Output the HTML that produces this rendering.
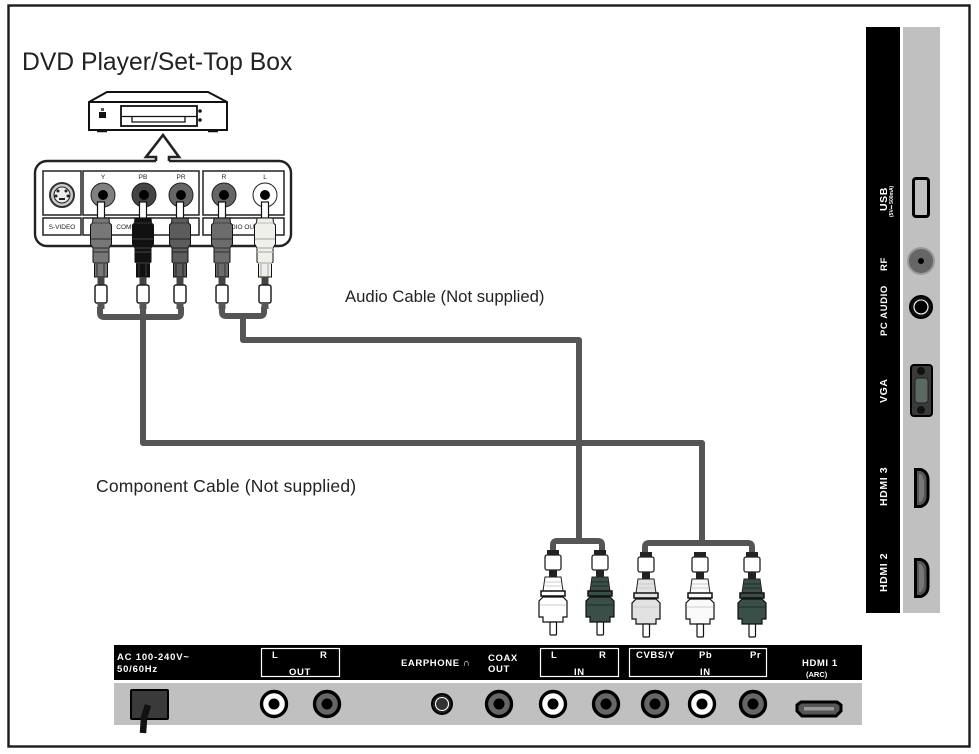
<!DOCTYPE html>
<html><head><meta charset="utf-8">
<style>
html,body{margin:0;padding:0;background:#fff;width:979px;height:754px;overflow:hidden}
svg{display:block;font-family:"Liberation Sans",sans-serif}
.w{fill:#fff;font-weight:bold;font-size:9.5px;letter-spacing:.8px}
.s{fill:#fff;font-weight:bold;font-size:9.5px;letter-spacing:.6px}
.v{fill:#fff;font-weight:bold;font-size:10.5px;letter-spacing:.6px}
.l{fill:#222;font-size:6.5px;text-anchor:middle}
.c{fill:none;stroke:#555;stroke-width:6;stroke-linejoin:round}
</style></head><body>
<svg width="979" height="754" viewBox="0 0 979 754" xmlns="http://www.w3.org/2000/svg">
<defs>
<g id="top">
<rect x="-3.5" y="-8" width="7" height="16" fill="#fff" stroke="#111" stroke-width="1.2"/>
<path d="M-8 8H8L8.500 13L10.500 15V34L8 38V52L6.500 53V67H-6.500V53L-8 52V38L-10.500 34V15L-8.500 13Z" fill="var(--p)" stroke="#111" stroke-width="1"/>
<path d="M-8.500 13H8.500" stroke="var(--q)" stroke-width="1"/>
<path d="M-10 29H10M-8 38H8M-8 42H8M-7 53H7" stroke="var(--q)" stroke-width="1.600"/>
<path d="M-4 54V66M3 54V66" stroke="var(--q)" stroke-width="1.400"/>
<rect x="-3.500" y="67" width="7" height="8" fill="#444"/>
<rect x="-6" y="75" width="12" height="18" rx="2" fill="#fff" stroke="#222" stroke-width="1.500"/>
<rect x="-3.500" y="93" width="7" height="6" fill="#555"/>
</g>
<g id="bot">
<rect x="-6" y="-6" width="12" height="5" fill="#222"/>
<rect x="-8" y="-1" width="16" height="15" rx="2" fill="#fff" stroke="#222" stroke-width="1.300"/>
<rect x="-4" y="14" width="8" height="7" fill="#222"/>
<path d="M-8 21H8L10 35H-10Z" fill="var(--p)" stroke="#222"/>
<path d="M-8 26H8M-8 30H8" stroke="var(--q)" stroke-width="1"/>
<rect x="-12" y="35" width="24" height="5" fill="var(--p)" stroke="#111" stroke-width="1.500"/>
<path d="M-10 41H10L14 45V61H10V66H-10V61H-14V45Z" fill="var(--p)" stroke="#111" stroke-width="1.200"/>
<path d="M-13 49H13" stroke="var(--q)" stroke-width="1"/>
<rect x="-3" y="66" width="6.500" height="13" rx="1" fill="#fff" stroke="#111" stroke-width="1.200"/>
</g>
</defs>
<rect width="979" height="754" fill="#fff"/>
<rect x="8.500" y="5.500" width="961" height="741" fill="none" stroke="#1a1a1a" stroke-width="2.400"/>
<text x="22" y="70" font-size="24.700" fill="#222">DVD Player/Set-Top Box</text>
<text x="345" y="302" font-size="16.700" fill="#222">Audio Cable (Not supplied)</text>
<text x="96" y="492" font-size="17.500" letter-spacing=".18" fill="#222">Component Cable (Not supplied)</text>

<!-- DVD -->
<path d="M89 102L107 92H208L227 102V130H89Z" fill="#fff" stroke="#111" stroke-width="2"/>
<path d="M89 102H227" stroke="#111" stroke-width="2"/>
<path d="M97 131h10M208 131h10" stroke="#111" stroke-width="2.500"/>
<rect x="121" y="106" width="76" height="20" fill="#fff" stroke="#111" stroke-width="1.800"/>
<path d="M132 117V122H185V117" fill="none" stroke="#111" stroke-width="1.300"/>
<path d="M121 116.500H197" stroke="#111" stroke-width="1.300"/>
<rect x="99" y="112" width="7" height="6" fill="#111"/><rect x="101" y="108" width="3" height="3" fill="#555"/>
<circle cx="200" cy="111" r="1.800" fill="#111"/><circle cx="200" cy="120" r="1.800" fill="#111"/>

<!-- Panel -->
<rect x="35" y="161" width="256" height="85" rx="12" fill="#fff" stroke="#222" stroke-width="2.400"/>
<path d="M156 163V157H146L163 135L179 157H169V163H156Z" fill="#fff" stroke="none"/>
<path d="M156 161V157H146L163 135L179 157H169V161" fill="none" stroke="#222" stroke-width="2.600"/>
<g fill="#fff" stroke="#222" stroke-width="1.500">
<rect x="43" y="171" width="38" height="44"/><rect x="83" y="171" width="116" height="44"/><rect x="203" y="171" width="81" height="44"/>
<rect x="43" y="218" width="38" height="17"/><rect x="83" y="218" width="116" height="17"/><rect x="203" y="218" width="81" height="17"/>
</g>
<circle cx="62" cy="195" r="12" fill="#ccc" stroke="#333" stroke-width="2"/>
<circle cx="62" cy="195" r="8" fill="#eee" stroke="#222"/>
<g fill="#222"><circle cx="58" cy="191" r="1.500"/><circle cx="66" cy="191" r="1.500"/><circle cx="56" cy="196" r="1.500"/><circle cx="68" cy="196" r="1.500"/><rect x="59" y="198" width="6" height="2"/></g>
<text class="l" x="103" y="179">Y</text><text class="l" x="143" y="179">PB</text><text class="l" x="181" y="179">PR</text>
<text class="l" x="224" y="179">R</text><text class="l" x="265" y="179">L</text>
<text class="l" x="62" y="229">S-VIDEO</text><text class="l" x="126" y="229">COMP</text><text class="l" x="240" y="229">AUDIO OUT</text>
<g stroke="#222" stroke-width="1">
<circle cx="103" cy="195" r="12" fill="#808080"/><circle cx="144" cy="195" r="12" fill="#444"/>
<circle cx="181" cy="195" r="12" fill="#666"/><circle cx="224" cy="195" r="12" fill="#666"/>
<circle cx="265" cy="195" r="12" fill="#fff"/>
</g>
<g fill="#000"><circle cx="103" cy="195" r="5"/><circle cx="144" cy="195" r="5"/><circle cx="181" cy="195" r="5"/><circle cx="224" cy="195" r="5"/><circle cx="265" cy="195" r="5"/></g>

<!-- Cables -->
<path class="c" d="M100 307V313Q100 317 104 317H177Q181 317 181 313V307"/>
<path class="c" d="M222 307V312Q222 316 226 316H260Q264 316 264 312V307"/>
<path class="c" d="M243 316V340H579V542"/>
<path class="c" d="M143 307V443H702V545"/>
<path class="c" d="M553 551V545Q553 541 557 541H598Q602 541 602 545V551"/>
<path class="c" d="M645 553V547Q645 543 649 543H748Q752 543 752 547V553"/>

<!-- Top plugs -->
<g transform="translate(101,210)" style="--p:#777;--q:#444"><use href="#top"/></g>
<g transform="translate(143,210)" style="--p:#111;--q:#333"><use href="#top"/></g>
<g transform="translate(180,210)" style="--p:#5c5c5c;--q:#333"><use href="#top"/></g>
<g transform="translate(222,210)" style="--p:#6c6c6c;--q:#444"><use href="#top"/></g>
<g transform="translate(265,210)" style="--p:#f0f0ea;--q:#bbb"><use href="#top"/></g>

<!-- Bottom plugs -->
<g transform="translate(553,556)" style="--p:#fff;--q:#ccc"><use href="#bot"/></g>
<g transform="translate(600,556)" style="--p:#3a4f48;--q:#1d2a26"><use href="#bot"/></g>
<g transform="translate(646,558)" style="--p:#e2e2e2;--q:#ccc"><use href="#bot"/></g>
<g transform="translate(700,558)" style="--p:#fafafa;--q:#ccc"><use href="#bot"/></g>
<g transform="translate(752,558)" style="--p:#3a4f48;--q:#1d2a26"><use href="#bot"/></g>

<!-- Bottom panel -->
<rect x="114" y="645" width="748" height="35" fill="#000"/>
<rect x="114" y="683" width="748" height="42" fill="#c0c0c0"/>
<g fill="none" stroke="#fff" stroke-width="1.200">
<rect x="261.500" y="648.500" width="78" height="28"/><rect x="540.500" y="648.500" width="78" height="28"/><rect x="629.500" y="648.500" width="137" height="28"/>
</g>
<text class="w" x="117" y="660">AC 100-240V~</text><text class="w" x="117" y="672">50/60Hz</text>
<text class="s" x="272" y="658">L</text><text class="s" x="320" y="658">R</text><text class="s" x="289" y="675">OUT</text>
<text class="s" x="401" y="666">EARPHONE ∩</text>
<text class="s" x="488" y="661">COAX</text><text class="s" x="488" y="672">OUT</text>
<text class="s" x="551" y="658">L</text><text class="s" x="599" y="658">R</text><text class="s" x="574" y="675">IN</text>
<text class="s" x="636" y="658">CVBS/Y</text><text class="s" x="699" y="658">Pb</text><text class="s" x="750" y="658">Pr</text><text class="s" x="700" y="675">IN</text>
<text class="s" x="802" y="666">HDMI 1</text><text x="806" y="677" fill="#fff" font-size="7.500" font-weight="bold">(ARC)</text>

<rect x="131" y="690" width="37" height="29" rx="1" fill="#3a3a3a" stroke="#000" stroke-width="2"/>
<path d="M148 705L144 718L143 733" fill="none" stroke="#111" stroke-width="6.500"/>
<g stroke="#000" stroke-width="3.400">
<circle cx="274" cy="704" r="12.500" fill="#fff"/><circle cx="327" cy="704" r="12.500" fill="#666"/>
<circle cx="499" cy="704" r="12.500" fill="#666"/><circle cx="553" cy="704" r="12.500" fill="#fff"/>
<circle cx="606" cy="704" r="12.500" fill="#666"/><circle cx="655" cy="704" r="12.500" fill="#666"/>
<circle cx="702" cy="704" r="12.500" fill="#fff"/><circle cx="753" cy="704" r="12.500" fill="#666"/>
</g>
<g fill="#000"><circle cx="274" cy="704" r="5.500"/><circle cx="327" cy="704" r="5.500"/><circle cx="499" cy="704" r="5.500"/><circle cx="553" cy="704" r="5.500"/><circle cx="606" cy="704" r="5.500"/><circle cx="655" cy="704" r="5.500"/><circle cx="702" cy="704" r="5.500"/><circle cx="753" cy="704" r="5.500"/></g>
<circle cx="442" cy="704" r="10" fill="#222" stroke="#000" stroke-width="2"/><circle cx="442" cy="704" r="6.500" fill="#333" stroke="#fff" stroke-width="1.100"/>
<path d="M797 705L801 702H837L841 705V711L836 716H802L797 711Z" fill="#555" stroke="#000" stroke-width="3"/>
<rect x="804" y="707" width="30" height="3.500" fill="#999"/>

<!-- Side panel -->
<rect x="866" y="27" width="34" height="586" fill="#000"/>
<rect x="903" y="27" width="37" height="586" fill="#c0c0c0"/>
<text class="v" transform="translate(887,211) rotate(-90)">USB</text>
<text transform="translate(893,217) rotate(-90)" fill="#fff" font-size="5" font-weight="bold">(5V⎓ 500mA)</text>
<text class="s" transform="translate(887,271) rotate(-90)">RF</text>
<text class="s" transform="translate(887,336) rotate(-90)">PC AUDIO</text>
<text class="v" transform="translate(887,403) rotate(-90)">VGA</text>
<text class="v" transform="translate(887,506) rotate(-90)">HDMI 3</text>
<text class="v" transform="translate(887,592) rotate(-90)">HDMI 2</text>
<rect x="913.500" y="178.500" width="15" height="38" rx="2.500" fill="#c0c0c0" stroke="#000" stroke-width="3"/>
<circle cx="921" cy="261" r="13" fill="#666" stroke="#999" stroke-width="2"/><circle cx="921" cy="261" r="3" fill="#000"/>
<circle cx="921" cy="307" r="11" fill="#111" stroke="#000" stroke-width="2"/><circle cx="921" cy="307" r="7" fill="#000" stroke="#fff" stroke-width="1.100"/>
<rect x="911" y="365" width="21" height="51" rx="3" fill="#3a3a3a" stroke="#000" stroke-width="2"/>
<rect x="915" y="378" width="13" height="25" rx="3" fill="#5a6a60" stroke="#222"/>
<circle cx="921" cy="371" r="4" fill="#111"/><circle cx="921" cy="410" r="4" fill="#111"/>
<path d="M915.500 469.500H921Q928 472 928 480V496Q928 504 921 506.500H915.500Z" fill="#555" stroke="#000" stroke-width="3"/>
<path d="M919 474H921Q924 478 924 482V494Q924 498 921 502H919Z" fill="#777"/>
<path d="M915.500 559.500H921Q928 562 928 570V586Q928 594 921 596.500H915.500Z" fill="#555" stroke="#000" stroke-width="3"/>
<path d="M919 564H921Q924 568 924 572V584Q924 588 921 592H919Z" fill="#777"/>
</svg>
</body></html>
